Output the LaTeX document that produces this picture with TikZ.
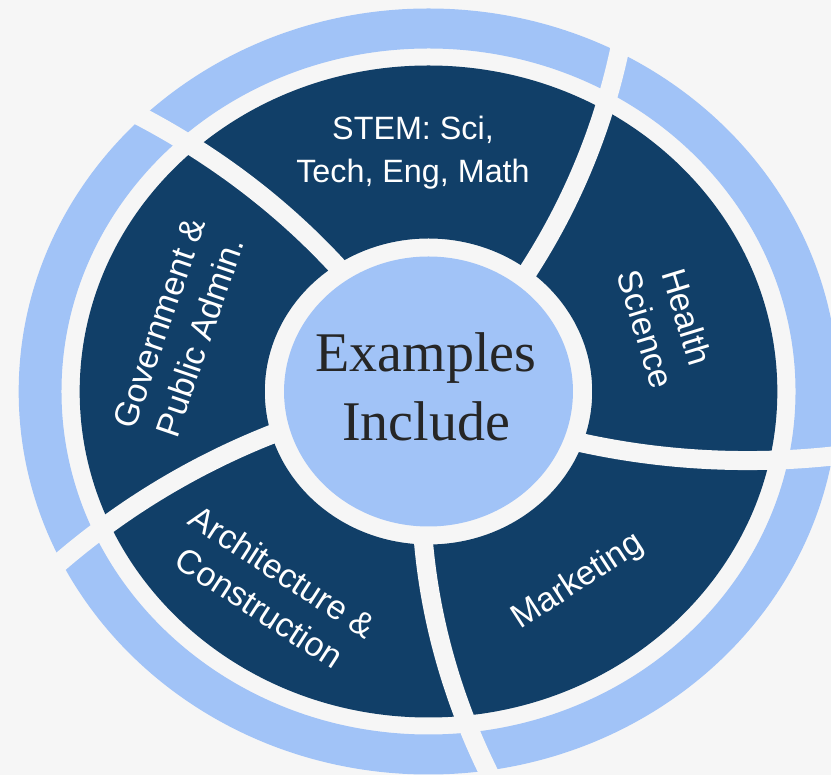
\documentclass[tikz,border=0pt]{standalone}
\usepackage{fontspec}
\setmainfont{Liberation Sans}
\newfontfamily\hubfont{Liberation Serif}
\definecolor{navy}{HTML}{113F68}
\definecolor{sky}{HTML}{A1C3F7}
\definecolor{bgc}{HTML}{F6F6F6}
\definecolor{ink}{HTML}{262626}
\begin{document}
\begin{tikzpicture}[x=1bp,y=1bp,
  divider/.style={draw=bgc, line width=19bp, line cap=butt},
  seglabel/.style={text=white, align=center, inner sep=0pt,
    font=\fontsize{34bp}{43bp}\selectfont},
  stemlabel/.style={text=white, align=center, inner sep=0pt,
    font=\fontsize{32.3bp}{43.4bp}\selectfont},
  hublabel/.style={text=ink, align=center, inner sep=0pt,
    font=\hubfont\fontsize{56bp}{68.7bp}\selectfont}]
\useasboundingbox (0,0) rectangle (831,775);
\fill[bgc] (0,0) rectangle (831,775);
\coordinate (c) at (428.5,383.5);
\begin{scope}[shift={(c)}, xscale=1.07]
  \fill[sky, even odd rule] (0,0) circle[radius=383] (0,0) circle[radius=343];
  \fill[navy, even odd rule] (0,0) circle[radius=326] (0,0) circle[radius=153];
  \fill[sky] (0,0) circle[radius=135];
  \foreach \k in {0,...,4}
    \draw[divider] plot[domain=140:400, samples=40, variable=\t]
      ({52.4+0.0434*(\t-155)+72*\k}:\t);
\end{scope}
\node[hublabel] (hub) at (426,388.2) {Examples\\Include};
\node[stemlabel] (stem) at (413,622.3) {STEM: Sci,\\Tech, Eng, Math};
\node[seglabel, rotate=71] (gov) at (179.5,445) {Government \&\\Public Admin.};
\node[seglabel, rotate=-73] (health) at (666.7,452) {Health\\Science};
\node[seglabel, rotate=-33] (arch) at (271.2,185.3) {Architecture \&\\Construction};
\node[seglabel, rotate=33] (mkt) at (578.3,193.3) {Marketing};
\end{tikzpicture}
\end{document}
